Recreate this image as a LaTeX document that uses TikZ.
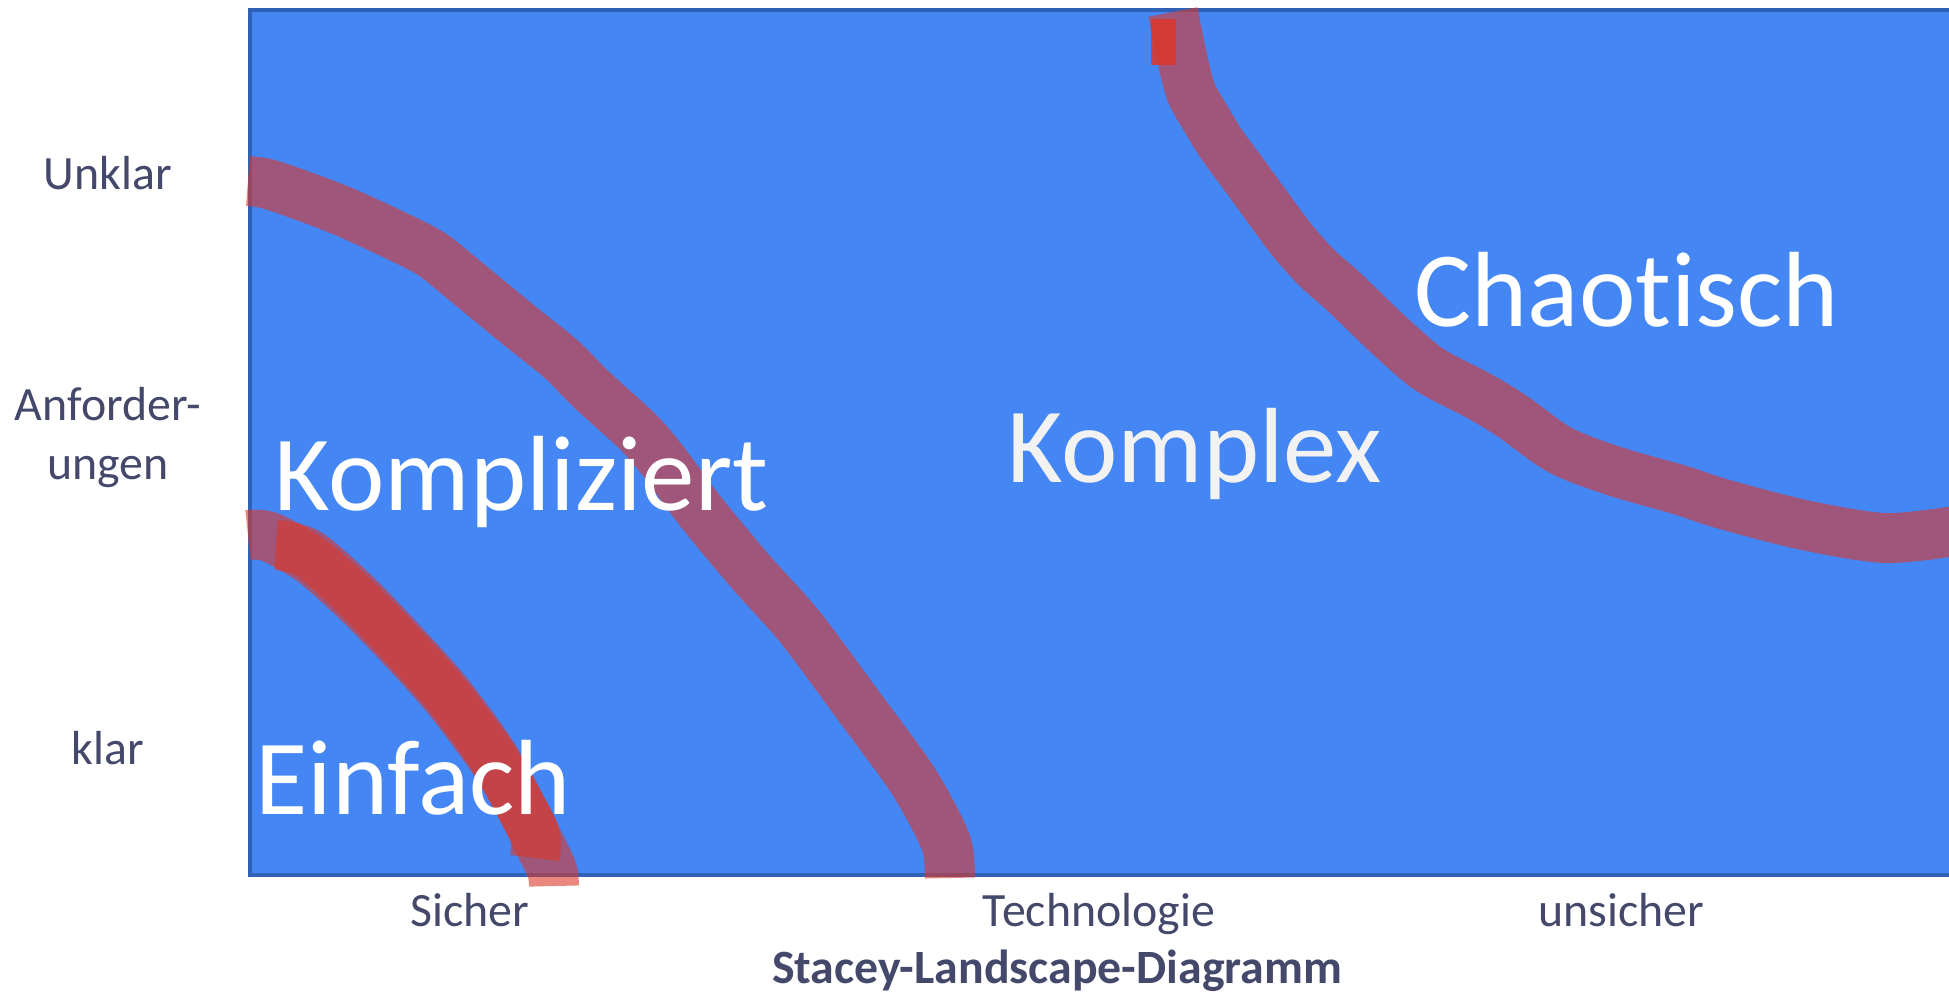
\documentclass[tikz,border=0pt]{standalone}
\usepackage{fontspec}
\setmainfont{Carlito}[Ligatures=NoCommon]
\definecolor{areablue}{HTML}{4486F4}
\definecolor{areaedge}{HTML}{2F62B6}
\definecolor{labelgray}{HTML}{44486A}
\definecolor{penred}{HTML}{DC3729}

\begin{document}
\begin{tikzpicture}[x=0.01cm, y=-0.01cm,
  axis/.style = {anchor=base, inner sep=0pt, text=labelgray,
    font=\fontsize{13.6}{15.1}\selectfont},
  zone/.style = {anchor=base west, inner sep=0pt, text=white,
    font=\fontsize{30.4}{36}\selectfont},
  border/.style = {penred, draw opacity=0.6, line width=14.2pt,
    line join=round}]
  \clip (0,0) rectangle (1949,993);
  \draw[fill=areablue, draw=areaedge, line width=1.3pt] (250,10) rectangle (1990,875);

  \draw[border] plot[smooth, tension=0.5] coordinates {(248,181) (268,184)
    (306,197) (347,213) (403,239) (433,255) (464,280) (520,326) (561,359)
    (592,390) (638,432) (663,461) (701,512) (750,571) (800,627) (855,701)
    (910,776) (938,825) (948,850) (950,878)};
  \draw[border] plot[smooth, tension=0.5] coordinates {(1173,12) (1182,57)
    (1191,92) (1206,119) (1222,145) (1242,172) (1266,205) (1292,240)
    (1317,268) (1343,291) (1391,337) (1430,370) (1479,396) (1512,416)
    (1560,450) (1614,471) (1680,490) (1723,504) (1804,525) (1885,538)
    (1955,531)};
  \draw[border] plot[smooth, tension=0.5] coordinates {(248,535) (270,537)
    (312,561) (357,601) (402,647) (446,696) (491,756) (518,801) (540,845)
    (552,870) (554,886)};
  \draw[border] plot[smooth, tension=0.5] coordinates {(276,545) (290,547)
    (312,556) (357,596) (402,643) (446,692) (491,753) (520,805) (535,835)
    (535,858)};
  \fill[penred, fill opacity=0.85] (1151,19) rectangle (1176,65);

  \node[axis] (unklar) at (108,189) {Unklar};
  \node[axis] (anforder) at (108,420) {Anforder-};
  \node[axis] (ungen) at (108,479) {ungen};
  \node[axis] (klar) at (108,764) {klar};
  \node[axis] (sicher) at (470,926) {Sicher};
  \node[axis] (technologie) at (1099,926) {Technologie};
  \node[axis] (unsicher) at (1621,926) {unsicher};
  \node[axis, font=\fontsize{13.6}{16}\selectfont\bfseries] (titel) at (1057,983)
    {Stacey-Landscape-Diagramm};

  \node[zone] (kompliziert) at (274,510) {Kompliziert};
  \node[zone] (einfach) at (255,814) {Einfach};
  \node[zone, text=black!5] (komplex) at (1007,482) {Komplex};
  \node[zone] (chaotisch) at (1414,326) {Chaotisch};
\end{tikzpicture}
\end{document}
